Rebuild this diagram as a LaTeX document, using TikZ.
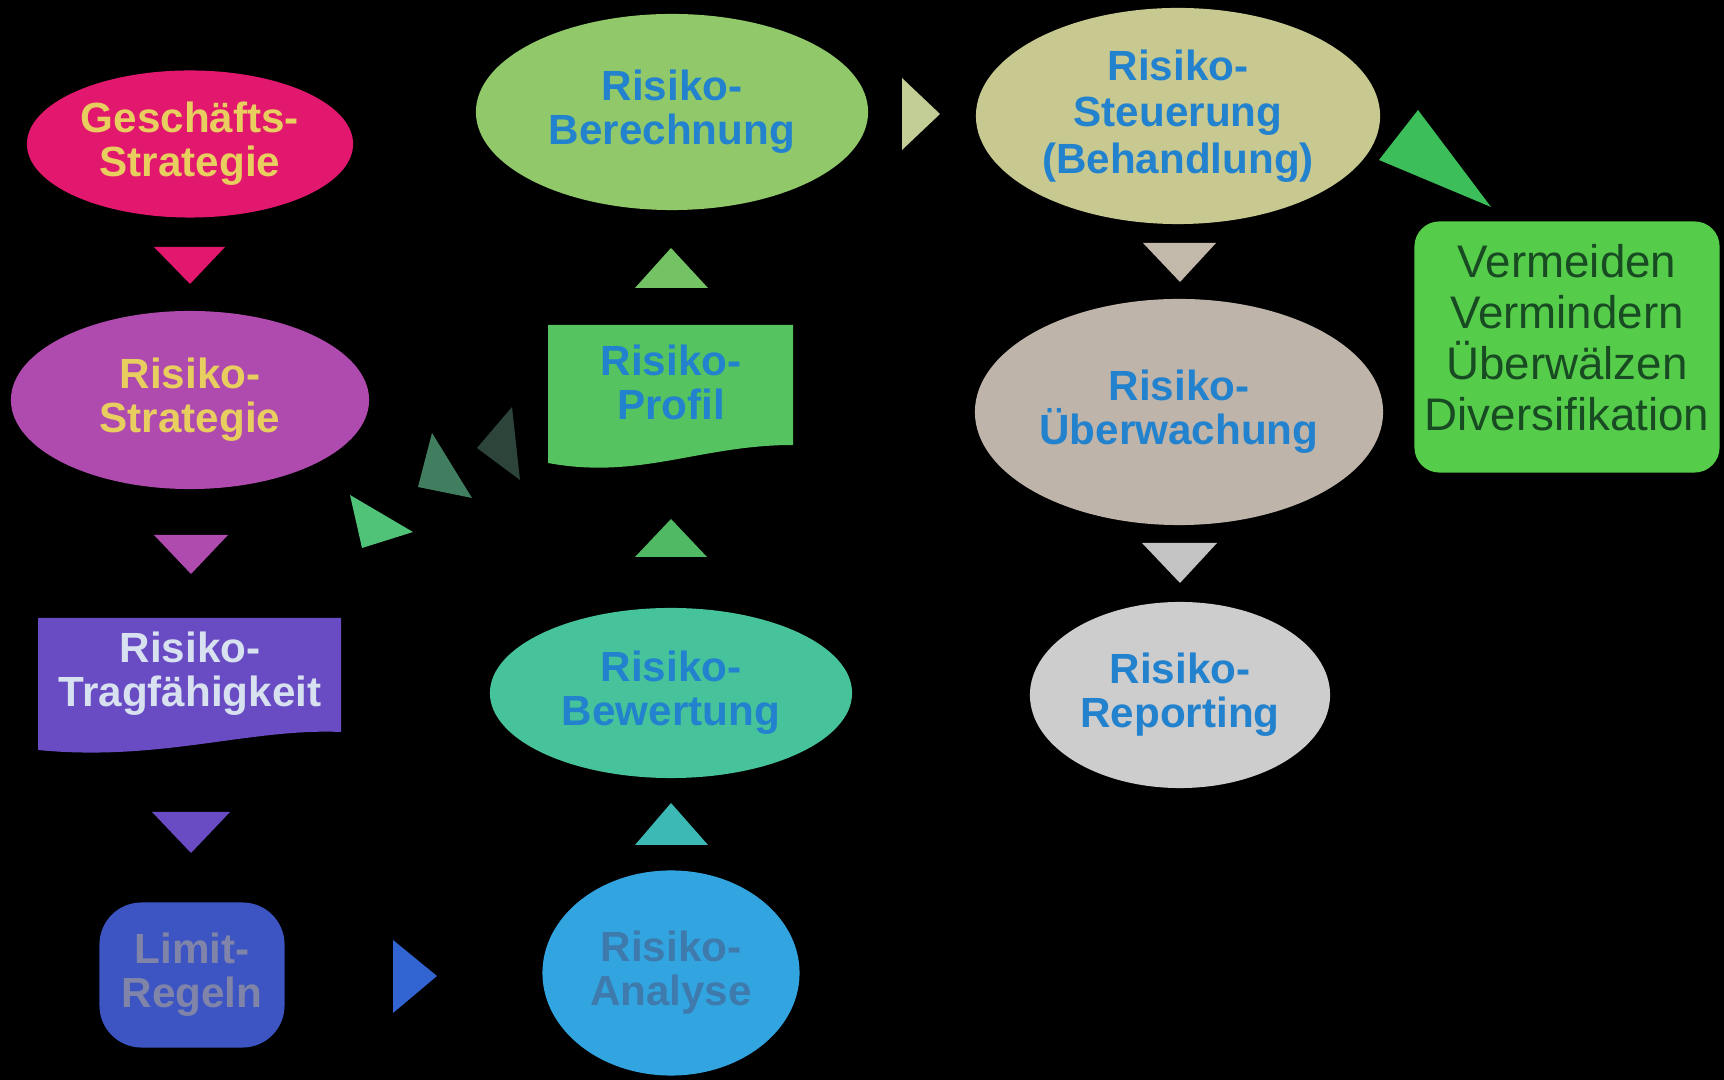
\documentclass[tikz,border=0pt]{standalone}
\usepackage{fontspec}
\setmainfont{Liberation Sans}
\usetikzlibrary{shapes.geometric}
\definecolor{pinkc}{RGB}{226,24,110}
\definecolor{goldtxt}{RGB}{232,205,95}
\definecolor{purplec}{RGB}{175,75,175}
\definecolor{tragc}{RGB}{105,75,195}
\definecolor{tragtxt}{RGB}{215,225,240}
\definecolor{limitc}{RGB}{60,85,195}
\definecolor{limittxt}{RGB}{128,132,168}
\definecolor{limittri}{RGB}{50,100,210}
\definecolor{analyc}{RGB}{50,165,225}
\definecolor{analytxt}{RGB}{62,122,172}
\definecolor{tealtri}{RGB}{60,185,180}
\definecolor{bewc}{RGB}{70,195,155}
\definecolor{greentri}{RGB}{80,185,100}
\definecolor{profc}{RGB}{85,195,95}
\definecolor{topgtri}{RGB}{115,195,100}
\definecolor{berc}{RGB}{145,200,105}
\definecolor{righttri}{RGB}{195,205,150}
\definecolor{steuc}{RGB}{200,200,145}
\definecolor{bigtri}{RGB}{60,190,90}
\definecolor{vermc}{RGB}{85,205,75}
\definecolor{vermtxt}{RGB}{25,75,35}
\definecolor{beigetri}{RGB}{195,185,170}
\definecolor{uberc}{RGB}{190,180,170}
\definecolor{graytri}{RGB}{195,195,195}
\definecolor{repc}{RGB}{205,205,205}
\definecolor{bluetxt}{RGB}{35,130,205}
\definecolor{darkA}{RGB}{45,68,58}
\definecolor{darkB}{RGB}{65,125,95}
\definecolor{darkC}{RGB}{80,195,120}
\tikzset{
  lbl/.style={align=center, inner sep=0pt, font=\bfseries\fontsize{12}{12.5}\selectfont},
  ell/.style={ellipse, inner sep=0pt, align=center, font=\bfseries\fontsize{12}{12.5}\selectfont},
  tri/.style={line join=round}
}
\begin{document}
\begin{tikzpicture}[x=0.01cm,y=-0.01cm]
\fill[black] (0,0) rectangle (1724,1080);
\useasboundingbox (0,0) rectangle (1724,1080);

% left column
\node[ell, fill=pinkc, text=goldtxt, minimum width=3.26cm, minimum height=1.47cm] (gs) at (190,144) {Geschäfts-\\Strategie};
\fill[pinkc, tri] (154,247) -- (225,247) -- (190,284) -- cycle;
\node[ell, fill=purplec, text=goldtxt, minimum width=3.58cm, minimum height=1.78cm] (rs) at (190,400) {Risiko-\\Strategie};
\fill[purplec, tri] (154,535) -- (228,535) -- (191,574) -- cycle;
\fill[tragc] (38,618) -- (341,618) -- (341,732) .. controls (250,728) and (160,762) .. (38,750) -- cycle;
\node[lbl, text=tragtxt] (rt) at (190,674) {Risiko-\\Tragfähigkeit};
\fill[tragc, tri] (152,812) -- (230,812) -- (191,853) -- cycle;
\node[rectangle, rounded corners=0.42cm, fill=limitc, text=limittxt, minimum width=1.85cm, minimum height=1.45cm, lbl] (lr) at (192,975) {Limit-\\Regeln};
\fill[limittri, tri] (393,940) -- (437,976) -- (393,1013) -- cycle;

% middle column
\node[ell, fill=analyc, text=analytxt, minimum width=2.57cm, minimum height=2.05cm] (ra) at (671,973) {Risiko-\\Analyse};
\fill[tealtri, tri] (635,845) -- (708,845) -- (671,803) -- cycle;
\node[ell, fill=bewc, text=bluetxt, minimum width=3.62cm, minimum height=1.70cm] (rb) at (671,693) {Risiko-\\Bewertung};
\fill[greentri, tri] (635,557) -- (707,557) -- (671,519) -- cycle;
\fill[profc] (548,325) -- (793,325) -- (793,445) .. controls (700,445) and (640,480) .. (548,463) -- cycle;
\node[lbl, text=bluetxt] (rp) at (671,382) {Risiko-\\Profil};
\fill[topgtri, tri] (635,288) -- (708,288) -- (671,248) -- cycle;
\node[ell, fill=berc, text=bluetxt, minimum width=3.92cm, minimum height=1.96cm] (rbe) at (672,112) {Risiko-\\Berechnung};
\fill[righttri, tri] (902,78) -- (940,114) -- (902,150) -- cycle;

% chevrons from profile to strategy
\fill[darkA, tri] (512,407) -- (477,448) -- (520,480) -- cycle;
\fill[darkB, tri] (432,433) -- (418,487) -- (472,498) -- cycle;
\fill[darkC, tri] (350,495) -- (362,548) -- (413,532) -- cycle;

% right column
\node[ell, fill=steuc, text=bluetxt, minimum width=4.04cm, minimum height=2.16cm, font=\bfseries\fontsize{12}{13.2}\selectfont] (st) at (1178,116) {Risiko-\\Steuerung\\(Behandlung)};
\fill[bigtri, tri] (1418,110) -- (1379,160) -- (1491,207) -- cycle;
\node[rectangle, rounded corners=0.25cm, fill=vermc, minimum width=3.05cm, minimum height=2.51cm, inner sep=0pt] (vm) at (1567,347) {};
\node[text=vermtxt, align=center, inner sep=0pt, font=\fontsize{13}{14.5}\selectfont] (vmt) at ([yshift=0.09cm]vm.center) {Vermeiden\\Vermindern\\Überwälzen\\Diversifikation};
\fill[beigetri, tri] (1143,243) -- (1216,243) -- (1180,282) -- cycle;
\node[ell, fill=uberc, text=bluetxt, minimum width=4.08cm, minimum height=2.26cm] (ue) at (1179,412) {Risiko-\\Überwachung};
\fill[graytri, tri] (1142,543) -- (1217,543) -- (1180,583) -- cycle;
\node[ell, fill=repc, text=bluetxt, minimum width=3.00cm, minimum height=1.86cm] (rr) at (1180,695) {Risiko-\\Reporting};
\end{tikzpicture}
\end{document}
